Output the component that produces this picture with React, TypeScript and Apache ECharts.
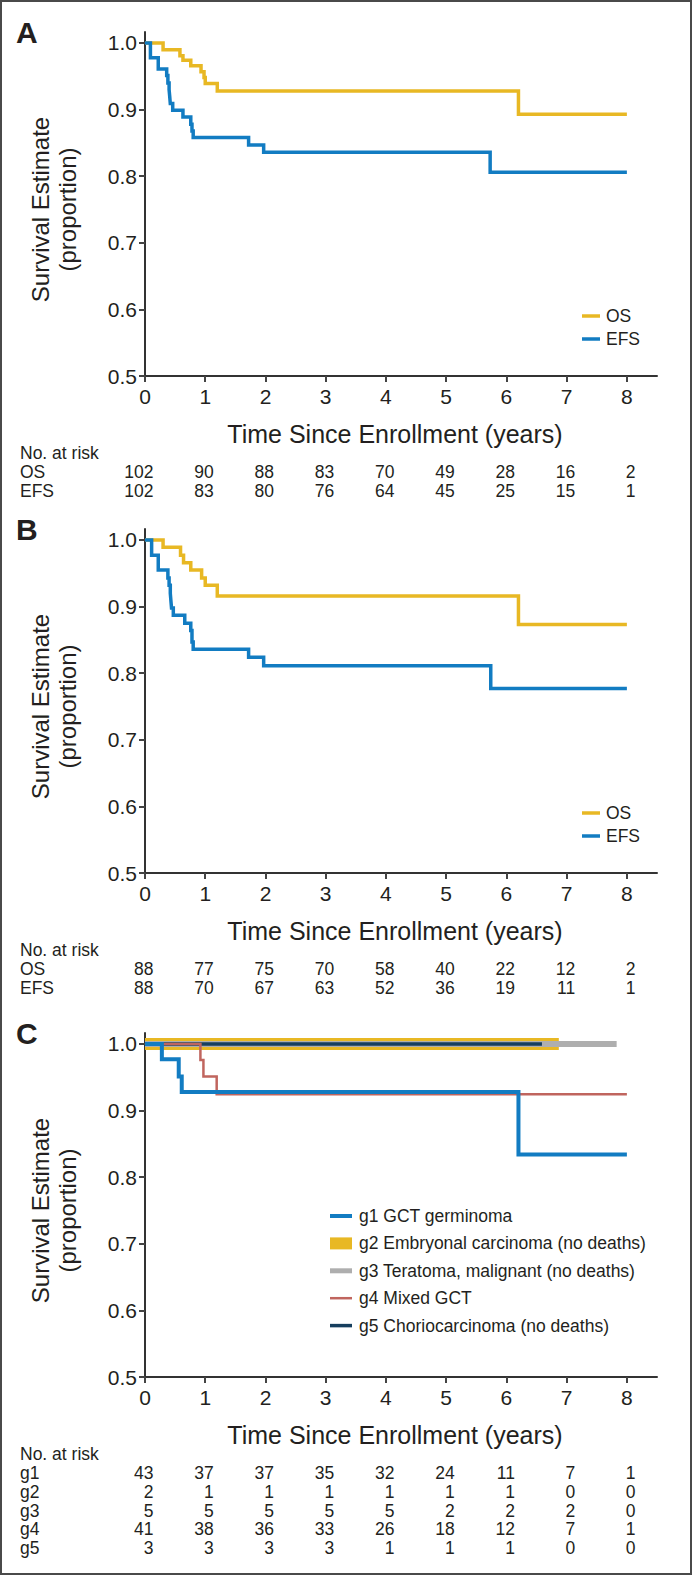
import React, { useEffect, useRef } from "react";
import * as echarts from "echarts";

// ---------- data ----------
const X_TICKS = [0, 1, 2, 3, 4, 5, 6, 7, 8];
const Y_TICKS = [0.5, 0.6, 0.7, 0.8, 0.9, 1.0];

// Panel A (time in years, survival proportion)
const A_OS: [number, number][] = [
  [0, 1], [0.3, 0.99], [0.58, 0.981], [0.63, 0.974], [0.76, 0.966], [0.93, 0.957],
  [0.98, 0.948], [1.0, 0.939], [1.2, 0.928], [6.2, 0.893], [8, 0.893],
];
const A_EFS: [number, number][] = [
  [0, 1], [0.09, 0.978], [0.22, 0.961], [0.36, 0.951], [0.38, 0.94], [0.4, 0.93],
  [0.41, 0.92], [0.42, 0.909], [0.46, 0.899], [0.63, 0.889], [0.76, 0.878],
  [0.78, 0.868], [0.8, 0.858], [1.72, 0.847], [1.97, 0.836], [5.73, 0.806], [8, 0.806],
];
// Panel B
const B_OS: [number, number][] = [
  [0, 1], [0.3, 0.989], [0.59, 0.977], [0.64, 0.966], [0.76, 0.955], [0.94, 0.943],
  [1.0, 0.932], [1.2, 0.916], [6.2, 0.873], [8, 0.873],
];
const B_EFS: [number, number][] = [
  [0, 1], [0.11, 0.977], [0.22, 0.955], [0.38, 0.943], [0.4, 0.932], [0.42, 0.92],
  [0.43, 0.909], [0.44, 0.898], [0.47, 0.887], [0.66, 0.875], [0.76, 0.864],
  [0.78, 0.847], [0.8, 0.836], [1.72, 0.824], [1.97, 0.811], [5.74, 0.777], [8, 0.777],
];
// Panel C
const C_G1: [number, number][] = [[0, 1], [0.28, 0.977], [0.56, 0.951], [0.61, 0.928], [6.2, 0.834], [8, 0.834]];
const C_G2: [number, number][] = [[0, 1], [6.87, 1]];
const C_G3: [number, number][] = [[0, 1], [7.83, 1]];
const C_G4: [number, number][] = [[0, 1], [0.92, 0.976], [0.97, 0.951], [1.19, 0.9245], [8, 0.9245]];
const C_G5: [number, number][] = [[0, 1], [6.59, 1]];

// Numbers at risk
const RISK_A_OS = [102, 90, 88, 83, 70, 49, 28, 16, 2];
const RISK_A_EFS = [102, 83, 80, 76, 64, 45, 25, 15, 1];
const RISK_B_OS = [88, 77, 75, 70, 58, 40, 22, 12, 2];
const RISK_B_EFS = [88, 70, 67, 63, 52, 36, 19, 11, 1];
const RISK_G1 = [43, 37, 37, 35, 32, 24, 11, 7, 1];
const RISK_G2 = [2, 1, 1, 1, 1, 1, 1, 0, 0];
const RISK_G3 = [5, 5, 5, 5, 5, 2, 2, 2, 0];
const RISK_G4 = [41, 38, 36, 33, 26, 18, 12, 7, 1];
const RISK_G5 = [3, 3, 3, 3, 1, 1, 1, 0, 0];

const PANEL_LETTERS = ["A", "B", "C"];
const LEGEND_AB = ["OS", "EFS"];
const LEGEND_C = [
  "g1 GCT germinoma",
  "g2 Embryonal carcinoma (no deaths)",
  "g3 Teratoma, malignant (no deaths)",
  "g4 Mixed GCT",
  "g5 Choriocarcinoma (no deaths)",
];
const Y_TITLE = "Survival Estimate\n(proportion)";
const X_TITLE = "Time Since Enrollment (years)";
const RISK_TITLE = "No. at risk";

// ---------- styling ----------
const FONT = "'Liberation Sans', Arial, Helvetica, sans-serif";
const TXT = "#231f20";
const YELLOW = "#E8B824";
const BLUE = "#127CC2";
const RED = "#C0655E";
const GRAY = "#AEAEAE";
const NAVY = "#163E5E";

const W = 692;
const H = 1575;
const GRID_LEFT = 145;
const GRID_W = 512;
const GRID_H = 344;
const PANEL_TOPS = [32, 529, 1033];
const X_MAX = 8.5;
const Y_MAX = 1.0165;

export default function App() {
  const ref = useRef<HTMLDivElement>(null);

  useEffect(() => {
    if (!ref.current) return;
    const chart = echarts.init(ref.current, null, { renderer: "svg", width: W, height: H });

    const grids = PANEL_TOPS.map((top) => ({
      left: GRID_LEFT,
      top,
      width: GRID_W,
      height: GRID_H,
      containLabel: false,
      outerBoundsMode: "none",
    }));

    const xAxes = PANEL_TOPS.map((_, i) => ({
      type: "value",
      gridIndex: i,
      min: 0,
      max: X_MAX,
      axisLine: { show: true, onZero: false, lineStyle: { color: "#333", width: 2 } },
      axisTick: { show: true, length: 6, customValues: X_TICKS, lineStyle: { color: "#444", width: 2 } },
      axisLabel: {
        customValues: X_TICKS,
        fontSize: 21,
        color: TXT,
        fontFamily: FONT,
        margin: 10,
      },
      splitLine: { show: false },
    }));

    const yAxes = PANEL_TOPS.map((_, i) => ({
      type: "value",
      gridIndex: i,
      min: 0.5,
      max: Y_MAX,
      axisLine: { show: true, onZero: false, lineStyle: { color: "#333", width: 2 } },
      axisTick: { show: true, length: 6, customValues: Y_TICKS, lineStyle: { color: "#444", width: 2 } },
      axisLabel: {
        customValues: Y_TICKS,
        fontSize: 21,
        color: TXT,
        fontFamily: FONT,
        margin: 8,
        formatter: (v: number) => v.toFixed(1),
      },
      splitLine: { show: false },
    }));

    const mk = (name: string, data: [number, number][], idx: number, color: string, width: number) => ({
      type: "line",
      name,
      data,
      xAxisIndex: idx,
      yAxisIndex: idx,
      step: "end",
      showSymbol: false,
      symbol: "none",
      lineStyle: { color, width, cap: "butt", join: "miter" },
      itemStyle: { color },
      emphasis: { disabled: true },
      silent: true,
    });

    const series = [
      mk("OS", A_OS, 0, YELLOW, 3.5),
      mk("EFS", A_EFS, 0, BLUE, 3.5),
      mk("OS", B_OS, 1, YELLOW, 3.5),
      mk("EFS", B_EFS, 1, BLUE, 3.5),
      mk(LEGEND_C[1], C_G2, 2, YELLOW, 12),
      mk(LEGEND_C[2], C_G3, 2, GRAY, 6),
      mk(LEGEND_C[4], C_G5, 2, NAVY, 3.5),
      mk(LEGEND_C[3], C_G4, 2, RED, 2.5),
      mk(LEGEND_C[0], C_G1, 2, BLUE, 4),
    ];

    chart.setOption({
      animation: false,
      backgroundColor: "#ffffff",
      textStyle: { fontFamily: FONT },
      grid: grids,
      xAxis: xAxes,
      yAxis: yAxes,
      series,
    });

    const text = (
      x: number,
      y: number,
      t: string,
      size: number,
      align: string = "left",
      extra: any = {}
    ) => ({
      type: "text",
      x,
      y,
      silent: true,
      style: {
        text: t,
        fill: TXT,
        fontSize: size,
        fontFamily: FONT,
        fontWeight: extra.fontWeight || "normal",
        align,
        textAlign: align,
        verticalAlign: "middle",
        textVerticalAlign: "middle",
      },
    });

    const gfx: any[] = [];
    // border
    gfx.push({
      type: "rect",
      shape: { x: 1, y: 1, width: W - 2, height: H - 2 },
      style: { fill: "none", stroke: "#4a4a4a", lineWidth: 2 },
      silent: true,
    });

    const riskSets = [
      [["OS", RISK_A_OS], ["EFS", RISK_A_EFS]],
      [["OS", RISK_B_OS], ["EFS", RISK_B_EFS]],
      [["g1", RISK_G1], ["g2", RISK_G2], ["g3", RISK_G3], ["g4", RISK_G4], ["g5", RISK_G5]],
    ] as [string, number[]][][];

    PANEL_TOPS.forEach((top, p) => {
      const bottom = top + GRID_H;
      // panel letter
      gfx.push(text(16, top + 0.5, PANEL_LETTERS[p], 30, "left", { fontWeight: "bold" }));
      // y title (rotated, two lines)
      const midY =
        ((chart.convertToPixel({ yAxisIndex: p }, 0.5) as number) +
          (chart.convertToPixel({ yAxisIndex: p }, 1.0) as number)) / 2;
      gfx.push({
        type: "text",
        x: 54,
        y: midY,
        rotation: Math.PI / 2,
        silent: true,
        style: {
          text: Y_TITLE,
          fill: TXT,
          fontSize: 24,
          fontFamily: FONT,
          align: "center",
          textAlign: "center",
          verticalAlign: "middle",
          textVerticalAlign: "middle",
          lineHeight: 27,
        },
      });
      // x title
      gfx.push(text(395, bottom + 58, X_TITLE, 25, "center"));
      // risk table
      gfx.push(text(20, bottom + 77, RISK_TITLE, 17.5, "left"));
      riskSets[p].forEach(([label, vals], r) => {
        const ry = bottom + 96 + r * 18.8;
        gfx.push(text(20, ry, label, 17.5, "left"));
        vals.forEach((v, k) => {
          const px = chart.convertToPixel({ xAxisIndex: p }, X_TICKS[k]) as number;
          gfx.push(text(px + 8.5, ry, String(v), 17.5, "right"));
        });
      });
    });

    // Legends A & B
    [0, 1].forEach((p) => {
      const bottom = PANEL_TOPS[p] + GRID_H;
      [YELLOW, BLUE].forEach((c, i) => {
        const ly = bottom - 60 + i * 23;
        gfx.push({
          type: "line",
          shape: { x1: 582, y1: ly, x2: 600, y2: ly },
          style: { stroke: c, lineWidth: 3.5 },
          silent: true,
        });
        gfx.push(text(606, ly, LEGEND_AB[i], 17.5, "left"));
      });
    });

    // Legend C
    const legC = [
      { c: BLUE, w: 4 },
      { c: YELLOW, w: 12 },
      { c: GRAY, w: 5 },
      { c: RED, w: 2.5 },
      { c: NAVY, w: 3.5 },
    ];
    legC.forEach((it, i) => {
      const ly = 1216 + i * 27.4;
      gfx.push({
        type: "rect",
        shape: { x: 330, y: ly - it.w / 2, width: 22, height: it.w },
        style: { fill: it.c },
        silent: true,
      });
      gfx.push(text(359, ly, LEGEND_C[i], 17.5, "left"));
    });

    chart.setOption({ graphic: gfx });

    return () => chart.dispose();
  }, []);

  return (
    <div
      ref={ref}
      style={{ position: "absolute", left: 0, top: 0, width: W, height: H, background: "#fff" }}
    />
  );
}
